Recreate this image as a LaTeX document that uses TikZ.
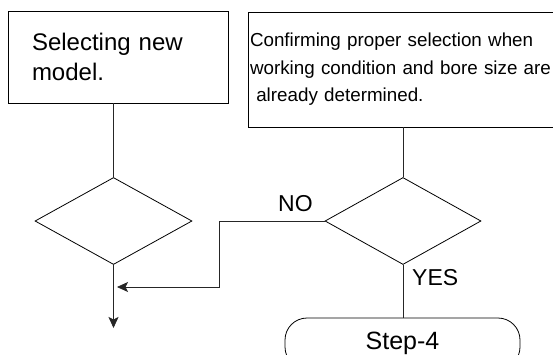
\documentclass[tikz,border=0pt]{standalone}
\usepackage{fontspec}
\setmainfont{Liberation Sans}
\usetikzlibrary{shapes.geometric,arrows.meta}
\tikzset{
  flowline/.style={line width=0.8pt, draw=black!85},
  arr/.style={flowline, -{Stealth[length=11pt, width=10pt, inset=2.5pt]}},
  procbox/.style={draw=black, line width=0.8pt, rectangle, align=left},
  decision/.style={draw=black, line width=0.8pt, diamond, inner sep=0pt, minimum width=157pt, minimum height=87pt},
  terminal/.style={draw=black, line width=0.8pt, rectangle, rounded corners=22pt, minimum width=235pt, minimum height=51pt, inner sep=0pt},
  lbl/.style={inner sep=0pt, font=\fontsize{23}{27}\selectfont}
}
\begin{document}
\begin{tikzpicture}[x=1pt, y=-1pt]
\useasboundingbox (0,0) rectangle (553,354);
\clip (0,0) rectangle (553,354);
\fill[white] (0,0) rectangle (553,354);
\node[procbox, minimum width=220pt, minimum height=92pt, inner xsep=24pt, text width=172pt,
      font=\fontsize{24}{30}\selectfont] (box1) at (118,57) {Selecting new\\model.};
\node[procbox, minimum width=320pt, minimum height=115pt, inner xsep=2pt, text width=316pt,
      font=\fontsize{18.8}{27.5}\selectfont] (box2) at (408,69.5)
  {Confirming proper selection when\\working condition and bore size are\\\ already determined.};
\node[decision] (d1) at (113.5,221) {};
\node[decision, minimum width=156pt] (d2) at (403,221) {};
\node[terminal, font=\fontsize{25}{30}\selectfont] (step4) at (402.5,343.5) {Step-4};
\coordinate (nobend) at (219,287);
\coordinate (outend) at (113.5,328);
\node[lbl, anchor=base west] (nolbl) at (278,211) {NO};
\node[lbl, anchor=base west] (yeslbl) at (412,285) {YES};
\draw[flowline] (box1.south -| d1.north) -- (d1.north);
\draw[flowline] (box2.south -| d2.north) -- (d2.north);
\draw[arr] (d1.south) -- (outend);
\draw[arr, shorten >=3.5pt] (d2.west) -| (nobend) -- (nobend -| d1.south);
\draw[flowline] (d2.south) -- (d2.south |- step4.north);
\end{tikzpicture}
\end{document}
